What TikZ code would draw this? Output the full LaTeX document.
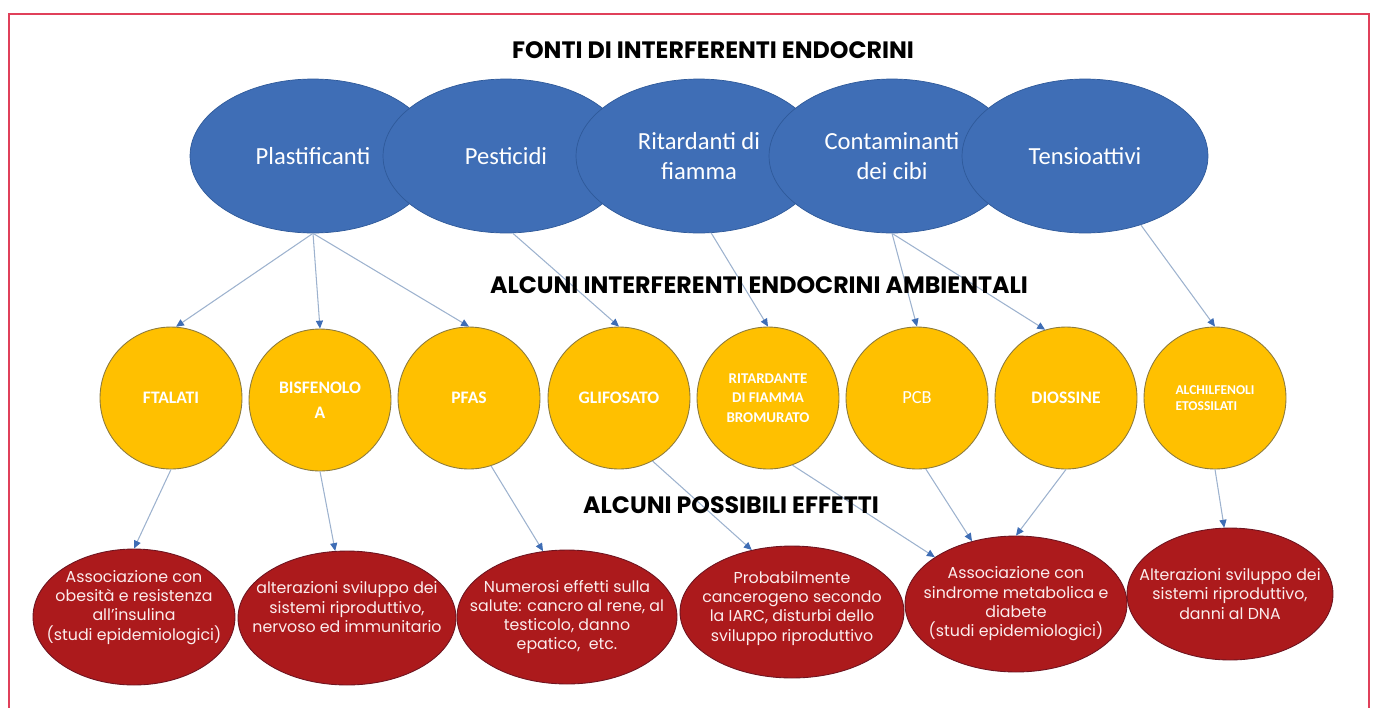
\documentclass[tikz,border=0pt]{standalone}
\usepackage{fontspec}
\setmainfont{Carlito}
\newfontfamily\gothic{Poppins}
\usetikzlibrary{shapes.geometric,arrows.meta}

\definecolor{blufonte}{HTML}{3F6EB6}
\definecolor{blubordo}{HTML}{2F5A9A}
\definecolor{giallo}{HTML}{FFC000}
\definecolor{giallobordo}{HTML}{8C7A3C}
\definecolor{rosso}{HTML}{AC1A1C}
\definecolor{rossobordo}{HTML}{6E1420}
\definecolor{cornice}{HTML}{E0405A}
\definecolor{lineablu}{HTML}{9DB2CE}
\definecolor{punta}{HTML}{3E6DB5}
\definecolor{testorosa}{HTML}{FBEDED}

\begin{document}
\begin{tikzpicture}[x=0.02cm,y=-0.02cm,
    fonte/.style={ellipse,fill=blufonte,draw=blubordo,line width=0.4pt,
        minimum width=4.92cm,minimum height=3.08cm,inner sep=0pt,
        text=white,align=center,font=\fontsize{14}{17}\selectfont},
    interf/.style={circle,fill=giallo,draw=giallobordo,line width=0.5pt,
        minimum size=2.84cm,inner sep=0pt,text=white,align=center,
        font=\bfseries\fontsize{10}{14}\selectfont},
    effetto/.style 2 args={ellipse,fill=rosso,draw=rossobordo,line width=0.5pt,
        minimum width=#1,minimum height=#2,inner xsep=-30pt,inner ysep=-20pt,
        text=testorosa,align=center,font=\gothic\fontsize{9}{11}\selectfont},
    titolo/.style={font=\gothic\bfseries\fontsize{13.5}{16}\selectfont},
    freccia/.style={draw=lineablu,line width=0.6pt,
        -{Triangle[length=4.5pt,width=4pt,color=punta]}}]

    \useasboundingbox (0,0) rectangle (1375,707);
    % cornice
    \draw[cornice, line width=1.2pt] (9,730) -- (9,14) -- (1369,14) -- (1369,730);

    % fonti (da sinistra, ognuna sopra la precedente)
    \node[fonte] (plast)  at (313,156)  {Plastificanti};
    \node[fonte] (pest)   at (506,156)  {Pesticidi};
    \node[fonte] (ritard) at (699,156)  {Ritardanti di\\fiamma};
    \node[fonte] (contam) at (892,156)  {Contaminanti\\dei cibi};
    \node[fonte] (tensio) at (1085,156) {Tensioattivi};

    % interferenti ambientali
    \node[interf] (ftalati)   at (171,398)  {FTALATI};
    \node[interf] (bisfenolo) at (320,400)  {BISFENOLO\\A};
    \node[interf] (pfas)      at (469,398)  {PFAS};
    \node[interf] (glifosato) at (619,398)  {GLIFOSATO};
    \node[interf, font=\bfseries\fontsize{8.5}{11}\selectfont] (bromurato) at (768,398) {RITARDANTE\\DI FIAMMA\\BROMURATO};
    \node[interf, font=\fontsize{10.5}{14}\selectfont] (pcb) at (917,398) {PCB};
    \node[interf] (diossine)  at (1066,398) {DIOSSINE};
    \node[interf, align=left, font=\bfseries\fontsize{7.7}{9}\selectfont] (alchil) at (1215,398) {ALCHILFENOLI\\ETOSSILATI};

    % effetti
    \node[effetto={4.04cm}{2.72cm}] (obesita)    at (134,617)  {Associazione con\\obesità e resistenza\\all’insulina\\(studi epidemiologici)\\[2.6pt]};
    \node[effetto={4.36cm}{2.68cm}] (sviluppo)   at (347,618)  {alterazioni sviluppo dei\\sistemi riproduttivo,\\nervoso ed immunitario\\[1.5pt]};
    \node[effetto={4.4cm}{2.68cm}]  (salute)     at (567,617)  {Numerosi effetti sulla\\salute: cancro al rene, al\\testicolo, danno\\epatico,\ \ etc.};
    \node[effetto={4.48cm}{2.64cm}] (iarc)       at (792,612)  {Probabilmente\\cancerogeno secondo\\la IARC, disturbi dello\\sviluppo riproduttivo\\[-4.2pt]};
    \node[effetto={4.44cm}{2.72cm}] (metabolica) at (1016,604) {Associazione con\\sindrome metabolica e\\diabete\\(studi epidemiologici)};
    \node[effetto={4.12cm}{2.64cm}] (dna)        at (1230,594) {Alterazioni sviluppo dei\\sistemi riproduttivo,\\danni al DNA};

    % frecce fonti -> interferenti
    \draw[freccia] (plast.south) -- (ftalati.86);
    \draw[freccia] (plast.south) -- (bisfenolo.north);
    \draw[freccia] (plast.south) -- (pfas.north);
    \draw[freccia] (pest.-85) -- (glifosato.north);
    \draw[freccia] (ritard.-81) -- (bromurato.north);
    \draw[freccia] (contam.south) -- (pcb.north);
    \draw[freccia] (contam.south) -- (diossine.107);
    \draw[freccia] (tensio.-51) -- (alchil.north);

    % frecce interferenti -> effetti
    \draw[freccia] (ftalati.south) -- (obesita.north);
    \draw[freccia] (bisfenolo.south) -- (sviluppo.100);
    \draw[freccia] (pfas.-72) -- (salute.110);
    \draw[freccia] (glifosato.-62) -- (iarc.123);
    \draw[freccia] (bromurato.-70) -- (metabolica.150);
    \draw[freccia] (pcb.-83) -- (metabolica.125);
    \draw[freccia] (diossine.-90) -- (metabolica.north);
    \draw[freccia] (alchil.-90) -- (dna.95);

    % titoli
    \node[titolo] (t1) at (713,50)  {FONTI DI INTERFERENTI ENDOCRINI};
    \node[titolo] (t2) at (759,285) {ALCUNI INTERFERENTI ENDOCRINI AMBIENTALI};
    \node[titolo] (t3) at (731,505) {ALCUNI POSSIBILI EFFETTI};
\end{tikzpicture}
\end{document}
